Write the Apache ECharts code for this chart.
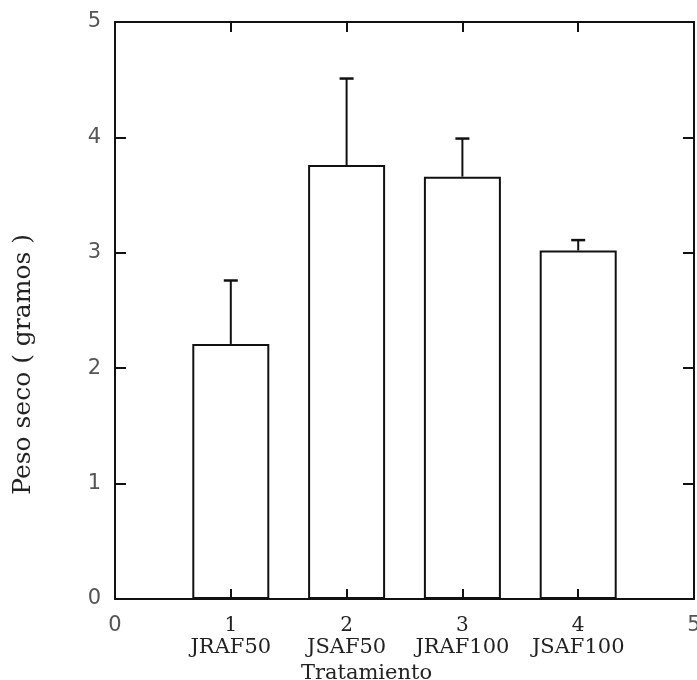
<!DOCTYPE html>
<html>
<head>
<meta charset="utf-8">
<script src="https://cdn.jsdelivr.net/npm/echarts@6/dist/echarts.min.js"></script>
<style>html,body{margin:0;padding:0;background:#fff;}#c{width:697px;height:680px;}</style>
</head>
<body>
<div id="c"></div>
<script>
var categories = ['JRAF50', 'JSAF50', 'JRAF100', 'JSAF100'];
var positions = [1, 2, 3, 4];
var means = [2.21, 3.76, 3.66, 3.02];
var errors = [0.55, 0.75, 0.33, 0.09];
var yTicks = [0, 1, 2, 3, 4, 5];

var SERIF = '"DejaVu Serif", "Liberation Serif", serif';
var SANS = '"DejaVu Sans", "Liberation Sans", sans-serif';

var barData = positions.map(function (p, i) { return [p, means[i]]; });
var errData = positions.map(function (p, i) { return [p, means[i], means[i] + errors[i]]; });

var chart = echarts.init(document.getElementById('c'), null, {renderer: 'canvas'});
var lineStyle = {color: '#111', width: 2};
chart.setOption({
  animation: false,
  backgroundColor: '#fff',
  grid: {left: 115, right: 3, top: 22, bottom: 81, containLabel: false, outerBoundsMode: 'none'},
  xAxis: [{
    type: 'value', min: 0, max: 5, interval: 1, position: 'bottom',
    axisLine: {show: true, onZero: false, lineStyle: lineStyle},
    axisTick: {show: true, inside: true, length: 10, lineStyle: lineStyle},
    splitLine: {show: false},
    axisLabel: {
      margin: 16,
      formatter: function (v) {
        var idx = positions.indexOf(v);
        if (idx >= 0) return '{n|' + v + '}\n{c|' + categories[idx] + '}';
        return '{s|' + v + '}';
      },
      rich: {
        n: {fontFamily: SERIF, fontSize: 20, color: '#222', lineHeight: 22},
        c: {fontFamily: SERIF, fontSize: 21, color: '#222', lineHeight: 22},
        s: {fontFamily: SANS, fontSize: 21, color: '#555', lineHeight: 22}
      }
    },
    name: 'Tratamiento', nameLocation: 'middle', nameGap: 61,
    nameTextStyle: {fontFamily: SERIF, fontSize: 21, color: '#222', padding: [0, 76, 0, 0]}
  }, {
    type: 'value', min: 0, max: 5, interval: 1, position: 'top',
    axisLine: {show: true, onZero: false, lineStyle: lineStyle},
    axisTick: {show: true, inside: true, length: 10, lineStyle: lineStyle},
    axisLabel: {show: false}, splitLine: {show: false}
  }],
  yAxis: [{
    type: 'value', min: 0, max: 5, interval: 1, position: 'left',
    axisLine: {show: true, onZero: false, lineStyle: lineStyle},
    axisTick: {show: true, inside: true, length: 11, lineStyle: lineStyle},
    splitLine: {show: false},
    axisLabel: {margin: 14, fontFamily: SANS, fontSize: 21, color: '#555'}
  }, {
    type: 'value', min: 0, max: 5, interval: 1, position: 'right',
    axisLine: {show: true, onZero: false, lineStyle: lineStyle},
    axisTick: {show: true, inside: true, length: 11, lineStyle: lineStyle},
    axisLabel: {show: false}, splitLine: {show: false}
  }],
  graphic: [{
    type: 'text', left: 11, top: 234, rotation: Math.PI / 2,
    style: {text: 'Peso seco ( gramos )', font: '25px ' + SERIF, fill: '#222'}
  }],
  series: [{
    type: 'bar', xAxisIndex: 0, yAxisIndex: 0,
    data: barData, barWidth: 77,
    itemStyle: {color: 'rgba(255,255,255,0)', borderColor: '#111', borderWidth: 2}
  }, {
    type: 'custom', xAxisIndex: 0, yAxisIndex: 0,
    data: errData,
    renderItem: function (params, api) {
      var x = api.value(0);
      var lo = api.coord([x, api.value(1)]);
      var hi = api.coord([x, api.value(2)]);
      return {
        type: 'group',
        children: [{
          type: 'line', shape: {x1: lo[0], y1: lo[1], x2: hi[0], y2: hi[1]},
          style: {stroke: '#111', lineWidth: 2}
        }, {
          type: 'line', shape: {x1: hi[0] - 7, y1: hi[1], x2: hi[0] + 7, y2: hi[1]},
          style: {stroke: '#111', lineWidth: 2.5}
        }]
      };
    },
    z: 3
  }]
});
</script>
</body>
</html>
